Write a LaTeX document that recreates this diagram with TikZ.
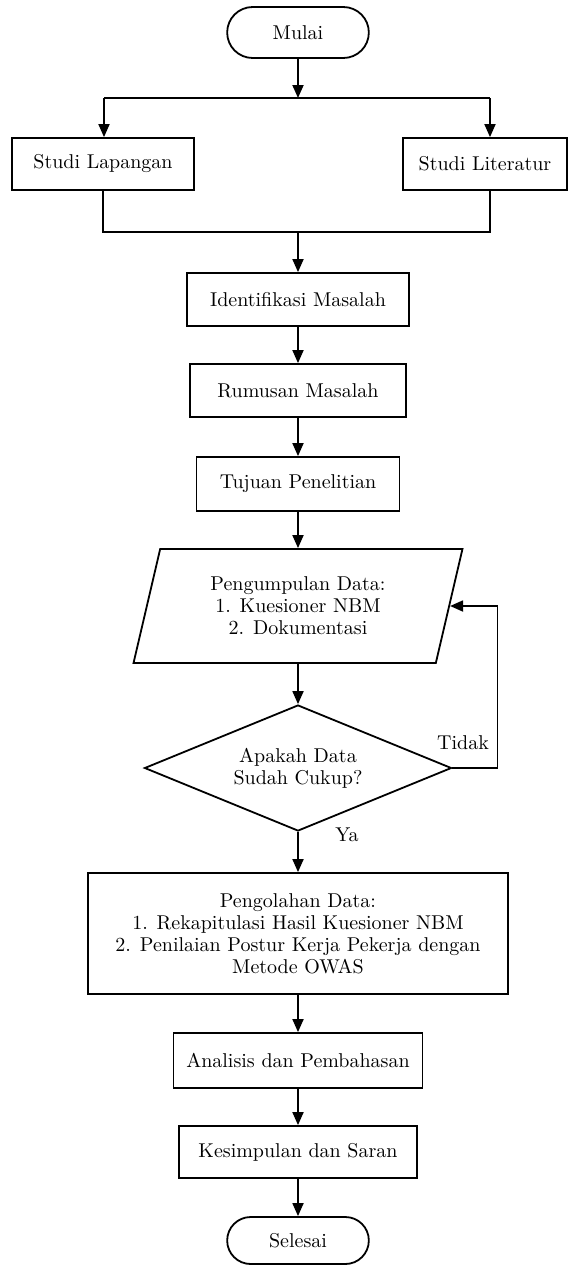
\documentclass[tikz,border=0pt]{standalone}
\usepackage{amsmath,amssymb}
\usepackage{tikz}
\usetikzlibrary{arrows.meta, shapes.geometric, shapes.misc, calc}

\tikzset{
  garis/.style={line width=0.9pt},
  panah/.style={garis, -{Triangle[length=6.5pt,width=5.5pt]}},
  kotak/.style={draw, garis, rectangle, align=center, inner sep=2pt},
  terminal/.style={draw, garis, rounded rectangle, minimum width=77.5pt},
  masukan/.style={draw, garis, trapezium, trapezium left angle=75.7, trapezium right angle=104.3,
    trapezium stretches=true, align=center},
  keputusan/.style={draw, garis, diamond, aspect=2.4, align=center, inner sep=0pt},
}

\begin{document}
\begin{tikzpicture}[x=0.5pt, y=-0.5pt, font=\fontsize{10}{11}\selectfont]
        \useasboundingbox (0,0) rectangle (568,1265);

        % awal
        \node[terminal, minimum height=25.5pt] (mulai) at (298,32.5) {Mulai};

        \node[kotak, minimum width=91pt, minimum height=26pt] (lapangan) at (103,164) {Studi Lapangan};
        \node[kotak, minimum width=82pt, minimum height=26pt] (literatur) at (485,164) {Studi Literatur};

        \coordinate (cabang) at (298,98);
        \coordinate (cabangL) at (104,98);
        \coordinate (cabangR) at (490,98);
        \coordinate (gabung) at (298,232);

        \node[kotak, minimum width=111pt, minimum height=26.5pt] (identifikasi) at (298,299.5) {Identifikasi Masalah};
        \node[kotak, minimum width=108pt, minimum height=26.5pt] (rumusan) at (298,390.5) {Rumusan Masalah};
        \node[kotak, minimum width=101.5pt, minimum height=27pt] (tujuan) at (298,484) {Tujuan Penelitian};

        \node[masukan, minimum width=164.5pt, minimum height=57pt] (data) at (298,606)
            {Pengumpulan Data:\\ 1. Kuesioner NBM\\ 2. Dokumentasi};

        \node[keputusan, minimum width=153.5pt, minimum height=63pt] (cukup) at (298,768)
            {Apakah Data\\ Sudah Cukup?};
        \node (tidak) at (463,743) {Tidak};
        \node (ya) at (347,835) {Ya};

        \node[kotak, minimum width=210pt, minimum height=60.5pt] (pengolahan) at (298,933.5)
            {Pengolahan Data:\\ 1. Rekapitulasi Hasil Kuesioner NBM\\
             2. Penilaian Postur Kerja Pekerja dengan\\ Metode OWAS};

        \node[kotak, minimum width=124.5pt, minimum height=27.5pt] (analisis) at (298,1060.5) {Analisis dan Pembahasan};
        \node[kotak, minimum width=119pt, minimum height=26pt] (kesimpulan) at (298,1152) {Kesimpulan dan Saran};

        % akhir
        \node[terminal, minimum height=23.5pt] (selesai) at (298,1240.5) {Selesai};

        % alur
        \draw[panah] (mulai) -- (cabang);
        \draw[garis] (cabangL) -- (cabangR);
        \draw[panah] (cabangL) -- (cabangL |- lapangan.north);
        \draw[panah] (cabangR) -- (cabangR |- literatur.north);
        \draw[garis] (lapangan.south) |- (gabung);
        \draw[garis] (cabangR |- literatur.south) |- (gabung);
        \draw[panah] (gabung) -- (identifikasi);
        \draw[panah] (identifikasi) -- (rumusan);
        \draw[panah] (rumusan) -- (tujuan);
        \draw[panah] (tujuan) -- (data);
        \draw[panah] (data) -- (cukup);
        \draw[panah] (cukup.east) -- ++(45,0) |- (data.east);
        \draw[panah] (cukup) -- (pengolahan);
        \draw[panah] (pengolahan) -- (analisis);
        \draw[panah] (analisis) -- (kesimpulan);
        \draw[panah] (kesimpulan) -- (selesai);

    \end{tikzpicture}
\end{document}
